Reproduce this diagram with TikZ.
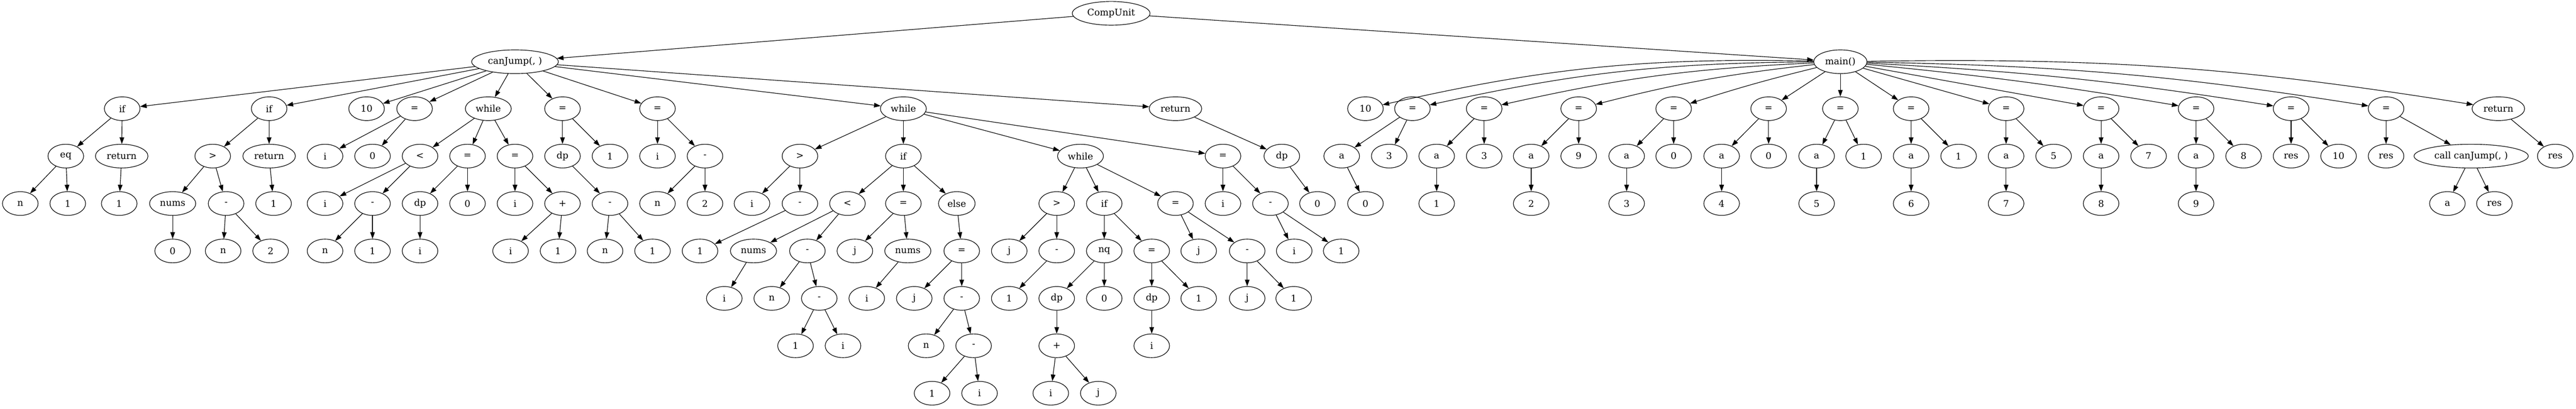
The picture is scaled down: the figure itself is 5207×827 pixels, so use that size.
\documentclass[tikz,border=0pt]{standalone}
\usepackage{fontspec}
\setmainfont{DejaVu Serif}
\usetikzlibrary{shapes.geometric, arrows.meta}

\begin{document}
\begin{tikzpicture}[x = 0.75pt, y = -0.75pt,
		tn/.style = {draw, ellipse, line width = 0.9pt, minimum width = 54pt, minimum height = 36pt, inner xsep = 5.5pt, inner ysep = 2pt, font = \fontsize{14}{16}\selectfont},
		arr/.style = {line width = 0.9pt, -{Triangle[length = 10pt, width = 7pt]}}]
		\useasboundingbox (0, 0) rectangle (5207, 827);

		\node [tn] (cu) at (2246, 27) {CompUnit};
		\node [tn] (cj) at (1041, 125) {canJump(, )};
		\node [tn] (mn) at (3720, 125) {main()};

		\node [tn] (if1) at (247, 220) {if};
		\node [tn] (if2) at (544, 220) {if};
		\node [tn] (ten) at (741, 220) {10};
		\node [tn] (as1) at (838, 220) {=};
		\node [tn] (wh1) at (987, 220) {while};
		\node [tn] (as2) at (1137, 220) {=};
		\node [tn] (as3) at (1329, 220) {=};
		\node [tn] (wh2) at (1826, 220) {while};
		\node [tn] (ret) at (2376, 220) {return};

		\node [tn] (eq) at (133, 316) {eq};
		\node [tn] (rt1) at (246, 316) {return};
		\node [tn] (eqn) at (41, 412) {n};
		\node [tn] (eq1) at (137, 412) {1};
		\node [tn] (rt1a) at (241, 412) {1};

		\node [tn] (gt1) at (430, 316) {>};
		\node [tn] (rt2) at (544, 316) {return};
		\node [tn] (nm1) at (349, 412) {nums};
		\node [tn] (sb1) at (457, 412) {-};
		\node [tn] (rt2a) at (553, 412) {1};
		\node [tn] (nm1a) at (349, 508) {0};
		\node [tn] (sb1n) at (451, 508) {n};
		\node [tn] (sb1b) at (547, 508) {2};

		\node [tn] (as1i) at (657, 316) {i};
		\node [tn] (as1z) at (753, 316) {0};

		\node [tn] (lt1) at (849, 316) {<};
		\node [tn] (as4) at (945, 316) {=};
		\node [tn] (as5) at (1041, 316) {=};
		\node [tn] (lt1i) at (657, 412) {i};
		\node [tn] (sb2) at (753, 412) {-};
		\node [tn] (sb2n) at (657, 508) {n};
		\node [tn] (sb2b) at (753, 508) {1};
		\node [tn] (dp1) at (849, 412) {dp};
		\node [tn] (as4z) at (945, 412) {0};
		\node [tn] (dp1i) at (849, 508) {i};
		\node [tn] (as5i) at (1041, 412) {i};
		\node [tn] (pl1) at (1137, 412) {+};
		\node [tn] (pl1i) at (1032, 508) {i};
		\node [tn] (pl1b) at (1128, 508) {1};

		\node [tn] (dp2) at (1137, 316) {dp};
		\node [tn] (as2b) at (1233, 316) {1};
		\node [tn] (sb3) at (1233, 412) {-};
		\node [tn] (sb3n) at (1223, 508) {n};
		\node [tn] (sb3b) at (1319, 508) {1};

		\node [tn] (as3i) at (1329, 316) {i};
		\node [tn] (sb4) at (1425, 316) {-};
		\node [tn] (sb4n) at (1329, 412) {n};
		\node [tn] (sb4b) at (1425, 412) {2};

		\node [tn] (gt2) at (1617, 316) {>};
		\node [tn] (if3) at (1826, 316) {if};
		\node [tn] (wh3) at (2184, 316) {while};
		\node [tn] (as6) at (2472, 316) {=};
		\node [tn] (gt2i) at (1520, 412) {i};
		\node [tn] (sb5) at (1617, 412) {-};
		\node [tn] (sb5b) at (1415, 508) {1};

		\node [tn] (lt2) at (1713, 412) {<};
		\node [tn] (as7) at (1826, 412) {=};
		\node [tn] (els) at (1934, 412) {else};
		\node [tn] (nm2) at (1523, 508) {nums};
		\node [tn] (sb6) at (1632, 508) {-};
		\node [tn] (nm2i) at (1464, 604) {i};
		\node [tn] (sb6n) at (1560, 604) {n};
		\node [tn] (sb7) at (1656, 604) {-};
		\node [tn] (sb7b) at (1608, 700) {1};
		\node [tn] (sb7i) at (1704, 700) {i};
		\node [tn] (as7j) at (1728, 508) {j};
		\node [tn] (nm3) at (1835, 508) {nums};
		\node [tn] (nm3i) at (1752, 604) {i};
		\node [tn] (as8) at (1944, 508) {=};
		\node [tn] (as8j) at (1848, 604) {j};
		\node [tn] (sb8) at (1944, 604) {-};
		\node [tn] (sb8n) at (1872, 700) {n};
		\node [tn] (sb9) at (1968, 700) {-};
		\node [tn] (sb9b) at (1884, 796) {1};
		\node [tn] (sb9i) at (1980, 796) {i};

		\node [tn] (gt3) at (2136, 412) {>};
		\node [tn] (if4) at (2232, 412) {if};
		\node [tn] (as9) at (2376, 412) {=};
		\node [tn] (gt3j) at (2040, 508) {j};
		\node [tn] (sb10) at (2136, 508) {-};
		\node [tn] (sb10b) at (2040, 604) {1};
		\node [tn] (nq) at (2232, 508) {nq};
		\node [tn] (as10) at (2328, 508) {=};
		\node [tn] (dp3) at (2136, 604) {dp};
		\node [tn] (nqz) at (2232, 604) {0};
		\node [tn] (pl2) at (2136, 700) {+};
		\node [tn] (pl2i) at (2124, 796) {i};
		\node [tn] (pl2j) at (2220, 796) {j};
		\node [tn] (dp4) at (2328, 604) {dp};
		\node [tn] (as10b) at (2423, 604) {1};
		\node [tn] (dp4i) at (2328, 700) {i};
		\node [tn] (as9j) at (2423, 508) {j};
		\node [tn] (sb11) at (2521, 508) {-};
		\node [tn] (sb11j) at (2521, 604) {j};
		\node [tn] (sb11b) at (2615, 604) {1};

		\node [tn] (as6i) at (2472, 412) {i};
		\node [tn] (sb12) at (2568, 412) {-};
		\node [tn] (sb12i) at (2616, 508) {i};
		\node [tn] (sb12b) at (2711, 508) {1};

		\node [tn] (dp5) at (2591, 316) {dp};
		\node [tn] (dp5z) at (2663, 412) {0};

		\node [tn] (m1) at (2760, 220) {10};
		\node [tn] (m2) at (2855, 220) {=};
		\node [tn] (m3) at (3000, 220) {=};
		\node [tn] (m4) at (3191, 220) {=};
		\node [tn] (m5) at (3383, 220) {=};
		\node [tn] (m6) at (3575, 220) {=};
		\node [tn] (m7) at (3720, 220) {=};
		\node [tn] (m8) at (3863, 220) {=};
		\node [tn] (m9) at (4055, 220) {=};
		\node [tn] (m10) at (4247, 220) {=};
		\node [tn] (m11) at (4439, 220) {=};
		\node [tn] (m12) at (4631, 220) {=};
		\node [tn] (m13) at (4823, 220) {=};
		\node [tn] (m14) at (5050, 220) {return};

		\node [tn] (m2a) at (2712, 316) {a};
		\node [tn] (m2b) at (2808, 316) {3};
		\node [tn] (m2c) at (2760, 412) {0};
		\node [tn] (m3a) at (2904, 316) {a};
		\node [tn] (m3b) at (3000, 316) {3};
		\node [tn] (m3c) at (2904, 412) {1};
		\node [tn] (m4a) at (3095, 316) {a};
		\node [tn] (m4b) at (3191, 316) {9};
		\node [tn] (m4c) at (3095, 412) {2};
		\node [tn] (m5a) at (3288, 316) {a};
		\node [tn] (m5b) at (3383, 316) {0};
		\node [tn] (m5c) at (3288, 412) {3};
		\node [tn] (m6a) at (3480, 316) {a};
		\node [tn] (m6b) at (3575, 316) {0};
		\node [tn] (m6c) at (3480, 412) {4};
		\node [tn] (m7a) at (3672, 316) {a};
		\node [tn] (m7b) at (3767, 316) {1};
		\node [tn] (m7c) at (3672, 412) {5};
		\node [tn] (m8a) at (3863, 316) {a};
		\node [tn] (m8b) at (3959, 316) {1};
		\node [tn] (m8c) at (3863, 412) {6};
		\node [tn] (m9a) at (4055, 316) {a};
		\node [tn] (m9b) at (4151, 316) {5};
		\node [tn] (m9c) at (4055, 412) {7};
		\node [tn] (m10a) at (4247, 316) {a};
		\node [tn] (m10b) at (4343, 316) {7};
		\node [tn] (m10c) at (4247, 412) {8};
		\node [tn] (m11a) at (4439, 316) {a};
		\node [tn] (m11b) at (4535, 316) {8};
		\node [tn] (m11c) at (4439, 412) {9};
		\node [tn] (m12a) at (4631, 316) {res};
		\node [tn] (m12b) at (4727, 316) {10};
		\node [tn] (m13a) at (4823, 316) {res};
		\node [tn] (call) at (4995, 316) {call canJump(, )};
		\node [tn] (calla) at (4947, 412) {a};
		\node [tn] (callr) at (5042, 412) {res};
		\node [tn] (m14a) at (5165, 316) {res};

		\draw [arr] (cu) edge (cj) edge (mn);
		\draw [arr] (cj) edge (if1) edge (if2) edge (ten) edge (as1) edge (wh1) edge (as2) edge (as3) edge (wh2) edge (ret);
		\draw [arr] (if1) edge (eq) edge (rt1);
		\draw [arr] (eq) edge (eqn) edge (eq1);
		\draw [arr] (rt1) edge (rt1a);
		\draw [arr] (if2) edge (gt1) edge (rt2);
		\draw [arr] (gt1) edge (nm1) edge (sb1);
		\draw [arr] (nm1) edge (nm1a);
		\draw [arr] (sb1) edge (sb1n) edge (sb1b);
		\draw [arr] (rt2) edge (rt2a);
		\draw [arr] (as1) edge (as1i) edge (as1z);
		\draw [arr] (wh1) edge (lt1) edge (as4) edge (as5);
		\draw [arr] (lt1) edge (lt1i) edge (sb2);
		\draw [arr] (sb2) edge (sb2n) edge (sb2b);
		\draw [arr] (as4) edge (dp1) edge (as4z);
		\draw [arr] (dp1) edge (dp1i);
		\draw [arr] (as5) edge (as5i) edge (pl1);
		\draw [arr] (pl1) edge (pl1i) edge (pl1b);
		\draw [arr] (as2) edge (dp2) edge (as2b);
		\draw [arr] (dp2) edge (sb3);
		\draw [arr] (sb3) edge (sb3n) edge (sb3b);
		\draw [arr] (as3) edge (as3i) edge (sb4);
		\draw [arr] (sb4) edge (sb4n) edge (sb4b);
		\draw [arr] (wh2) edge (gt2) edge (if3) edge (wh3) edge (as6);
		\draw [arr] (gt2) edge (gt2i) edge (sb5);
		\draw [arr] (sb5) edge (sb5b);
		\draw [arr] (if3) edge (lt2) edge (as7) edge (els);
		\draw [arr] (lt2) edge (nm2) edge (sb6);
		\draw [arr] (nm2) edge (nm2i);
		\draw [arr] (sb6) edge (sb6n) edge (sb7);
		\draw [arr] (sb7) edge (sb7b) edge (sb7i);
		\draw [arr] (as7) edge (as7j) edge (nm3);
		\draw [arr] (nm3) edge (nm3i);
		\draw [arr] (els) edge (as8);
		\draw [arr] (as8) edge (as8j) edge (sb8);
		\draw [arr] (sb8) edge (sb8n) edge (sb9);
		\draw [arr] (sb9) edge (sb9b) edge (sb9i);
		\draw [arr] (wh3) edge (gt3) edge (if4) edge (as9);
		\draw [arr] (gt3) edge (gt3j) edge (sb10);
		\draw [arr] (sb10) edge (sb10b);
		\draw [arr] (if4) edge (nq) edge (as10);
		\draw [arr] (nq) edge (dp3) edge (nqz);
		\draw [arr] (dp3) edge (pl2);
		\draw [arr] (pl2) edge (pl2i) edge (pl2j);
		\draw [arr] (as10) edge (dp4) edge (as10b);
		\draw [arr] (dp4) edge (dp4i);
		\draw [arr] (as9) edge (as9j) edge (sb11);
		\draw [arr] (sb11) edge (sb11j) edge (sb11b);
		\draw [arr] (as6) edge (as6i) edge (sb12);
		\draw [arr] (sb12) edge (sb12i) edge (sb12b);
		\draw [arr] (ret) edge (dp5);
		\draw [arr] (dp5) edge (dp5z);

		\draw [arr] (mn) edge [bend right = 7] (m1) edge [bend right = 6] (m2) edge [bend right = 5] (m3) edge [bend right = 4] (m4) edge [bend right = 2] (m5);
		\draw [arr] (mn) edge (m6) edge (m7) edge (m8) edge (m9) edge (m10);
		\draw [arr] (mn) edge [bend left = 2] (m11) edge [bend left = 3] (m12) edge [bend left = 4] (m13) edge [bend left = 5] (m14);
		\draw [arr] (m2) edge (m2a) edge (m2b);
		\draw [arr] (m2a) edge (m2c);
		\draw [arr] (m3) edge (m3a) edge (m3b);
		\draw [arr] (m3a) edge (m3c);
		\draw [arr] (m4) edge (m4a) edge (m4b);
		\draw [arr] (m4a) edge (m4c);
		\draw [arr] (m5) edge (m5a) edge (m5b);
		\draw [arr] (m5a) edge (m5c);
		\draw [arr] (m6) edge (m6a) edge (m6b);
		\draw [arr] (m6a) edge (m6c);
		\draw [arr] (m7) edge (m7a) edge (m7b);
		\draw [arr] (m7a) edge (m7c);
		\draw [arr] (m8) edge (m8a) edge (m8b);
		\draw [arr] (m8a) edge (m8c);
		\draw [arr] (m9) edge (m9a) edge (m9b);
		\draw [arr] (m9a) edge (m9c);
		\draw [arr] (m10) edge (m10a) edge (m10b);
		\draw [arr] (m10a) edge (m10c);
		\draw [arr] (m11) edge (m11a) edge (m11b);
		\draw [arr] (m11a) edge (m11c);
		\draw [arr] (m12) edge (m12a) edge (m12b);
		\draw [arr] (m13) edge (m13a) edge (call);
		\draw [arr] (call) edge (calla) edge (callr);
		\draw [arr] (m14) edge (m14a);
	\end{tikzpicture}
\end{document}
